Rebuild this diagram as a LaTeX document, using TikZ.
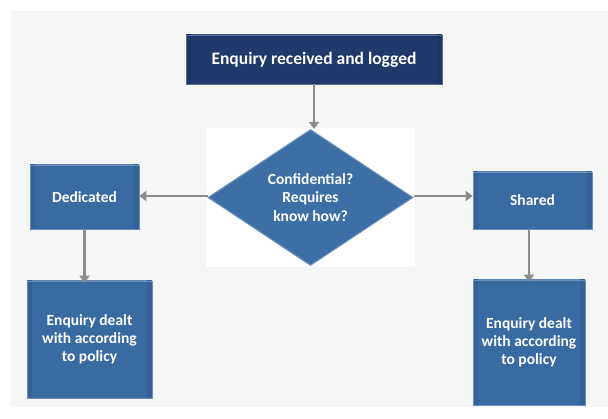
\documentclass[tikz,border=0pt]{standalone}
\usepackage{fontspec}
\setmainfont{Carlito}
\usetikzlibrary{shapes.geometric,arrows.meta}
\definecolor{navy}{RGB}{30,57,106}
\definecolor{midblue}{RGB}{58,106,162}
\definecolor{diablue}{RGB}{61,110,166}
\definecolor{pagegray}{RGB}{245,247,247}
\definecolor{linkgray}{RGB}{140,140,140}
\tikzset{
  bevel/.style={path picture={
    \coordinate (bl) at (path picture bounding box.south west);
    \coordinate (tr) at (path picture bounding box.north east);
    \coordinate (tl) at (path picture bounding box.north west);
    \coordinate (br) at (path picture bounding box.south east);
    \fill[#1!82!white] (tl) -- (tr) -- ([xshift=-5pt,yshift=5pt]tr) -- ([xshift=5pt,yshift=5pt]tl) -- cycle;
    \fill[#1!92!black] (tl) -- ([xshift=5pt,yshift=5pt]tl) -- ([xshift=5pt,yshift=-5pt]bl) -- (bl) -- cycle;
    \fill[#1!92!black] (tr) -- ([xshift=-5pt,yshift=5pt]tr) -- ([xshift=-5pt,yshift=-5pt]br) -- (br) -- cycle;
    \fill[#1!90!white] (bl) -- ([xshift=5pt,yshift=-5pt]bl) -- ([xshift=-5pt,yshift=-5pt]br) -- (br) -- cycle;
  }},
  box/.style={rectangle, fill=#1, draw=#1!75!white, line width=0.6pt,
    bevel=#1, text=white, font=\bfseries\fontsize{15.5}{18}\selectfont,
    align=center, inner sep=0pt},
  decision/.style={diamond, fill=diablue, draw=diablue!75!white, line width=1pt,
    text=white, font=\bfseries\fontsize{15.5}{18.5}\selectfont,
    align=center, inner sep=0pt},
  link/.style={draw=linkgray, line width=2.2pt,
    -{Triangle[width=10pt,length=7pt]}},
}
\begin{document}
\begin{tikzpicture}[x=1pt,y=-1pt]
  \useasboundingbox (0,0) rectangle (608,419);
  % page panel and the white card behind the decision
  \fill[white] (0,0) rectangle (608,419);
  \fill[pagegray] (11,11) rectangle (608,407);
  \fill[white] (206,128) rectangle (415,267);

  % nodes
  \node[box=navy, minimum width=256pt, minimum height=49pt,
        font=\bfseries\fontsize{17.5}{20}\selectfont] (start) at (314,59.5)
        {Enquiry received and logged};
  \node[decision, minimum width=205pt, minimum height=136pt] (dec) at (310.5,197.5)
        {Confidential?\\Requires\\know how?};
  \node[box=midblue, minimum width=109pt, minimum height=64pt] (ded) at (84.5,197)
        {Dedicated};
  \node[box=midblue, minimum width=119pt, minimum height=57pt] (sha) at (532.5,200.5)
        {Shared};
  \node[box=midblue, minimum width=125pt, minimum height=117pt] (dpol) at (89.5,339.5)
        {Enquiry dealt\\with according\\to policy};
  \node[box=midblue, minimum width=112pt, minimum height=125pt] (spol) at (529,342.5)
        {Enquiry dealt\\with according\\to policy};

  % connectors
  \draw[link] (start.south) -- (start.south |- dec.north);
  \draw[link] ([yshift=1.5pt]dec.west) -- ([yshift=1.5pt]dec.west -| ded.east);
  \draw[link] ([yshift=1.5pt]dec.east) -- ([yshift=1.5pt]dec.east -| sha.west);
  \draw[link] (ded.south) -- ([yshift=-2pt]ded.south |- dpol.north);
  \draw[link] (spol.north |- sha.south) -- ([yshift=-2pt]spol.north);
\end{tikzpicture}
\end{document}
